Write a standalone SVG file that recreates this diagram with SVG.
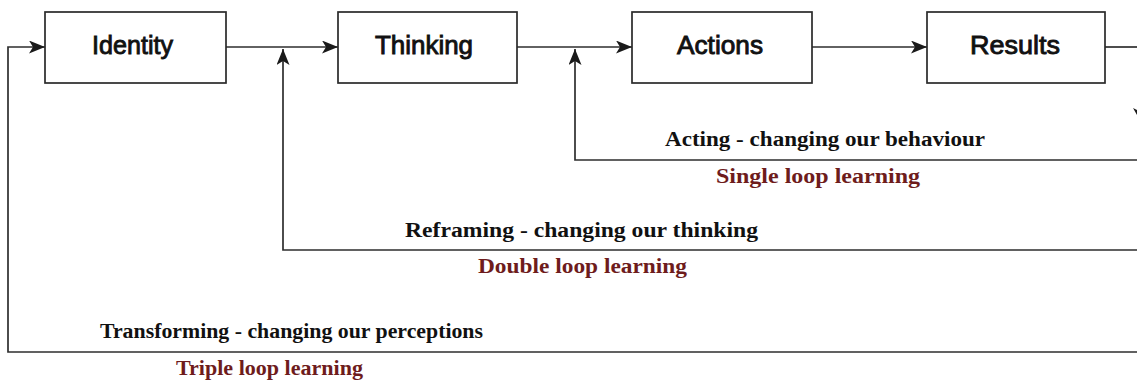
<svg xmlns="http://www.w3.org/2000/svg" width="1137" height="381" viewBox="0 0 1137 381">
<style>
.box{fill:#ffffff;stroke:#2a2a2a;stroke-width:1.7}
.bt{font-family:"Liberation Sans",Arial,sans-serif;font-size:26px;fill:#111111;text-anchor:start;stroke:#111111;stroke-width:0.9}
.ln{fill:none;stroke:#2e2e2e;stroke-width:1.7}
.act{font-family:"Liberation Serif","Times New Roman",serif;font-weight:bold;font-size:20px;fill:#111111}
.loop{font-family:"Liberation Serif","Times New Roman",serif;font-weight:bold;font-size:20px;fill:#6e1c1c}
</style>
<defs>
<marker id="ah" markerUnits="userSpaceOnUse" markerWidth="17" markerHeight="14" refX="16" refY="6.5" orient="auto">
<path d="M0,0 L16,6.5 L0,13 L4,6.5 z" fill="#1a1a1a"/>
</marker>
</defs>
<rect width="1137" height="381" fill="#ffffff"/>
<g id="connectors">
<path class="ln" d="M226,47 L338,47" marker-end="url(#ah)"/>
<path class="ln" d="M517,47 L632,47" marker-end="url(#ah)"/>
<path class="ln" d="M812,47 L927,47" marker-end="url(#ah)"/>
<path class="ln" d="M1105,47 L1137,47"/>
<path class="ln" d="M1137,160 L575,160 L575,49" marker-end="url(#ah)"/>
<path class="ln" d="M1137,250 L283,250 L283,49" marker-end="url(#ah)"/>
<path class="ln" d="M1137,352 L8,352 L8,47 L45,47" marker-end="url(#ah)"/>
<path d="M1133,108 L1141,122 L1149,108 L1141,112 z" fill="#1a1a1a"/>
</g>
<g id="identity">
<rect class="box" x="45" y="12" width="181" height="71"/>
<text class="bt" x="92" y="54" textLength="81" lengthAdjust="spacingAndGlyphs">Identity</text>
</g>
<g id="thinking">
<rect class="box" x="338" y="12" width="179" height="71"/>
<text class="bt" x="375" y="54" textLength="98" lengthAdjust="spacingAndGlyphs">Thinking</text>
</g>
<g id="actions">
<rect class="box" x="632" y="12" width="180" height="71"/>
<text class="bt" x="677" y="54" textLength="86" lengthAdjust="spacingAndGlyphs">Actions</text>
</g>
<g id="results">
<rect class="box" x="927" y="12" width="178" height="71"/>
<text class="bt" x="970" y="54" textLength="90" lengthAdjust="spacingAndGlyphs">Results</text>
</g>
<g id="labels">
<text class="act" x="665" y="146" textLength="320" lengthAdjust="spacingAndGlyphs">Acting - changing our behaviour</text>
<text class="loop" x="716" y="183" textLength="204" lengthAdjust="spacingAndGlyphs">Single loop learning</text>
<text class="act" x="405" y="237" textLength="353" lengthAdjust="spacingAndGlyphs">Reframing - changing our thinking</text>
<text class="loop" x="478" y="273" textLength="209" lengthAdjust="spacingAndGlyphs">Double loop learning</text>
<text class="act" x="100" y="338" textLength="383" lengthAdjust="spacingAndGlyphs">Transforming - changing our perceptions</text>
<text class="loop" x="176" y="375" textLength="187" lengthAdjust="spacingAndGlyphs">Triple loop learning</text>
</g>
</svg>
